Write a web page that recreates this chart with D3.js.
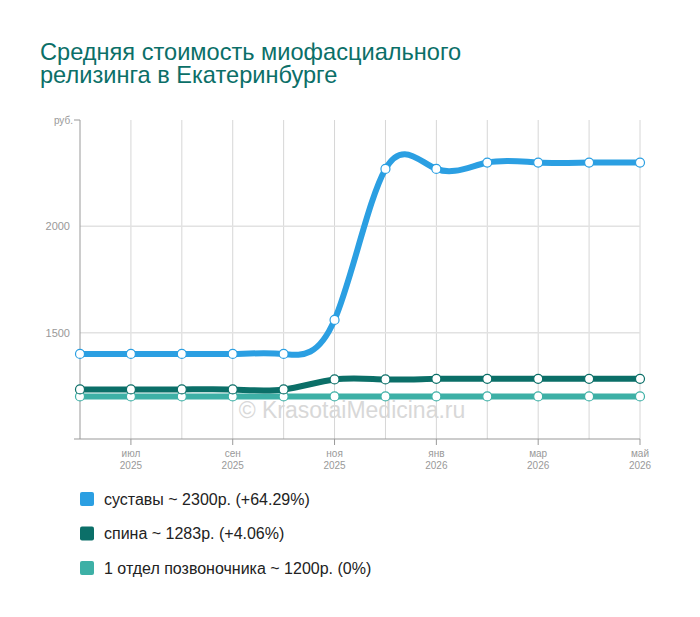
<!DOCTYPE html>
<html>
<head>
<meta charset="utf-8">
<script src="https://cdn.jsdelivr.net/npm/d3@7"></script>
<style>
  body { margin: 0; background: #fff; font-family: Arial, "Liberation Sans", sans-serif; }
</style>
</head>
<body>
<div id="chart"></div>
<script>
// данные графика
var months = ["2025-06","2025-07","2025-08","2025-09","2025-10","2025-11","2025-12","2026-01","2026-02","2026-03","2026-04","2026-05"];
var sustavy = [1400,1400,1400,1400,1400,1560,2270,2270,2300,2300,2300,2300];
var spina = [1233,1233,1233,1233,1233,1280,1280,1283,1283,1283,1283,1283];
var otdel = [1200,1200,1200,1200,1200,1200,1200,1200,1200,1200,1200,1200];
var seriesNames = ["суставы ~ 2300р. (+64.29%)","спина ~ 1283р. (+4.06%)","1 отдел позвоночника ~ 1200р. (0%)"];
var seriesColors = ["#2b9fe2","#0b6f68","#3db0a6"];
var yTicks = [1500,2000];
var monthNames = ["янв","фев","мар","апр","май","июн","июл","авг","сен","окт","ноя","дек"];

var width = 700, height = 617;
var svg = d3.select("#chart").append("svg")
    .attr("width", width)
    .attr("height", height);

// заголовок
var titleLines = ["Средняя стоимость миофасциального","релизинга в Екатеринбурге"];
svg.append("g").selectAll("text")
    .data(titleLines)
    .enter().append("text")
    .attr("x", 40)
    .attr("y", function(d, i){ return 60 + i * 23; })
    .attr("fill", "#0b6f68")
    .style("font-size", "23.6px")
    .text(function(d){ return d; });

var parse = d3.timeParse("%Y-%m");

var x = d3.scalePoint()
    .domain(months)
    .range([80, 640]);
var y = d3.scaleLinear()
    .domain([1000, 2500])
    .range([439, 120]);

// сетка
svg.append("g").selectAll("line")
    .data(months.slice(1))
    .enter().append("line")
    .attr("x1", function(d){ return x(d); })
    .attr("x2", function(d){ return x(d); })
    .attr("y1", 120).attr("y2", 439)
    .attr("stroke", "#d6d6d6");
svg.append("g").selectAll("line")
    .data(yTicks)
    .enter().append("line")
    .attr("x1", 80).attr("x2", 640)
    .attr("y1", function(d){ return y(d); })
    .attr("y2", function(d){ return y(d); })
    .attr("stroke", "#e2e2e2")
    .attr("stroke-width", 1.5);

// оси
svg.append("line").attr("x1", 80).attr("x2", 80).attr("y1", 120).attr("y2", 439).attr("stroke", "#999");
svg.append("line").attr("x1", 80).attr("x2", 640).attr("y1", 439).attr("y2", 439).attr("stroke", "#999");
svg.append("line").attr("x1", 74).attr("x2", 80).attr("y1", 120).attr("y2", 120).attr("stroke", "#999");
svg.append("line").attr("x1", 74).attr("x2", 80).attr("y1", 439).attr("y2", 439).attr("stroke", "#999");
svg.append("text").attr("x", 73).attr("y", 124).attr("text-anchor", "end")
    .attr("fill", "#999").style("font-size", "10px").text("руб.");
svg.append("g").selectAll("text")
    .data(yTicks)
    .enter().append("text")
    .attr("x", 70)
    .attr("y", function(d){ return y(d) + 4; })
    .attr("text-anchor", "end")
    .attr("fill", "#999")
    .style("font-size", "11px")
    .text(function(d){ return d; });

var labeled = months.filter(function(d, i){ return i % 2 == 1; });
var xt = svg.append("g").selectAll("g")
    .data(labeled)
    .enter().append("g")
    .attr("transform", function(d){ return "translate(" + x(d) + ",0)"; });
xt.append("line").attr("y1", 439).attr("y2", 445).attr("stroke", "#999");
xt.append("text").attr("y", 457).attr("text-anchor", "middle").attr("fill", "#999")
    .style("font-size", "10px").text(function(d){ return monthNames[parse(d).getMonth()]; });
xt.append("text").attr("y", 469).attr("text-anchor", "middle").attr("fill", "#999")
    .style("font-size", "10px").text(function(d){ return parse(d).getFullYear(); });

// водяной знак
svg.append("text")
    .attr("x", 352).attr("y", 418)
    .attr("text-anchor", "middle")
    .attr("fill", "#d8d8d8")
    .style("font-size", "23px")
    .text("© KrasotaiMedicina.ru");

// линии
var allSeries = [sustavy, spina, otdel];
var line = d3.line()
    .x(function(d, i){ return x(months[i]); })
    .y(function(d){ return y(d); })
    .curve(d3.curveNatural);

for (var k = allSeries.length - 1; k >= 0; k--) {
    svg.append("path")
        .datum(allSeries[k])
        .attr("d", line)
        .attr("fill", "none")
        .attr("stroke", seriesColors[k])
        .attr("stroke-width", 6)
        .attr("stroke-linecap", "round");
    svg.append("g").selectAll("circle")
        .data(allSeries[k])
        .enter().append("circle")
        .attr("cx", function(d, i){ return x(months[i]); })
        .attr("cy", function(d){ return y(d); })
        .attr("r", 4.5)
        .attr("fill", "#fff")
        .attr("stroke", seriesColors[k])
        .attr("stroke-width", 1.2);
}

// легенда
var legend = svg.append("g").selectAll("g")
    .data(seriesNames)
    .enter().append("g")
    .attr("transform", function(d, i){ return "translate(80," + (492 + i * 34.5) + ")"; });
legend.append("rect")
    .attr("width", 14).attr("height", 14).attr("rx", 2)
    .attr("fill", function(d, i){ return seriesColors[i]; });
legend.append("text")
    .attr("x", 24).attr("y", 12.5)
    .attr("fill", "#222")
    .style("font-size", "16px")
    .text(function(d){ return d; });
</script>
</body>
</html>
